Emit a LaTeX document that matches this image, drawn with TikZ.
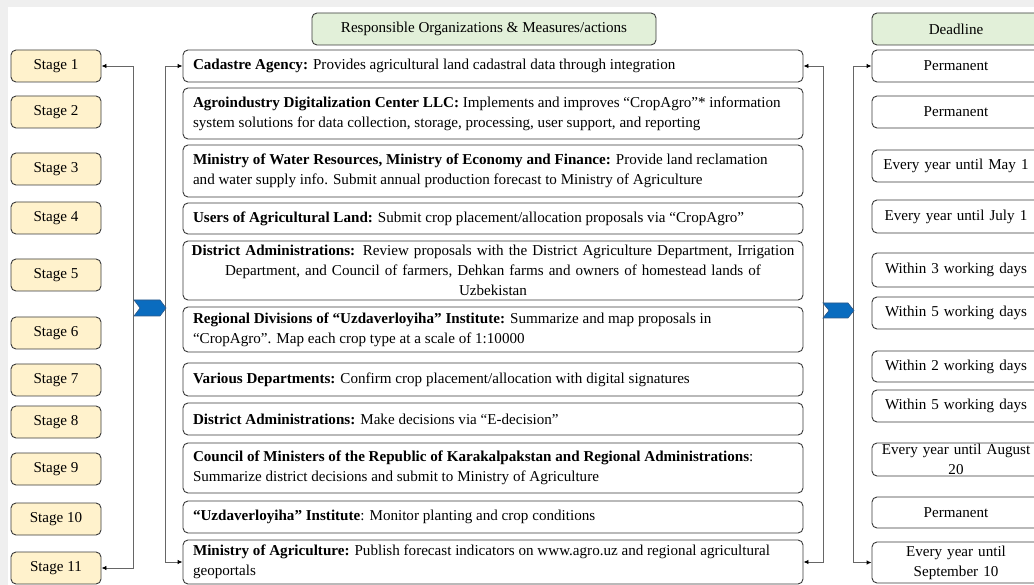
\documentclass[tikz,border=0pt]{standalone}
\usepackage{fontspec}
\setmainfont{Liberation Serif}
\usetikzlibrary{arrows.meta}
\definecolor{stagefill}{HTML}{FFF2CC}
\definecolor{headfill}{HTML}{E2F0D9}
\definecolor{boxline}{HTML}{3A3A3A}
\definecolor{connline}{HTML}{666666}
\definecolor{chevblue}{HTML}{0A6CBF}
\definecolor{chevedge}{HTML}{2F5A88}
\definecolor{marginbg}{HTML}{EFEFEF}

\tikzset{
  txt/.style={font=\fontsize{15.1}{20}\selectfont},
  base/.style={txt, draw=boxline, line width=0.9pt, rounded corners=5pt, inner sep=0pt},
  stagebox/.style={base, fill=stagefill, minimum width=90pt, minimum height=32pt},
  headbox/.style={base, fill=headfill, minimum height=32pt},
  actbox/.style={base, fill=white, minimum width=620pt, text width=600pt, align=flush left},
  actboxc/.style={actbox, text width=606pt, align=center},
  dlbox/.style={base, fill=white, minimum width=168pt, text width=162pt, align=center},
  conn/.style={draw=connline, line width=0.9pt,
    arrows={Latex[length=5pt,width=4.5pt,color=black]-Latex[length=5pt,width=4.5pt,color=black]}},
  chevron/.style={fill=chevblue, draw=chevedge, line width=0.6pt}
}

\begin{document}
\begin{tikzpicture}[x=1pt,y=-1pt]
\useasboundingbox (0,0) rectangle (1034,585);
\fill[marginbg] (0,0) rectangle (1034,585);
\fill[white] (8,7) rectangle (1034,585);

% column headers
\node[headbox, minimum width=344pt] (h1) at (484,29) {Responsible Organizations \& Measures/actions};
\node[headbox, minimum width=168pt] (h2) at (956,29) {Deadline};

% stages
\node[stagebox] (s1)  at (56,66)  {Stage 1};
\node[stagebox] (s2)  at (56,112) {Stage 2};
\node[stagebox] (s3)  at (56,169) {Stage 3};
\node[stagebox] (s4)  at (56,218) {Stage 4};
\node[stagebox] (s5)  at (56,275) {Stage 5};
\node[stagebox] (s6)  at (56,333) {Stage 6};
\node[stagebox] (s7)  at (56,380) {Stage 7};
\node[stagebox] (s8)  at (56,422) {Stage 8};
\node[stagebox] (s9)  at (56,469) {Stage 9};
\node[stagebox] (s10) at (56,519) {Stage 10};
\node[stagebox] (s11) at (56,568) {Stage 11};

% organizations and measures
\node[actbox, minimum height=32pt] (m1) at (493,66)
  {\textbf{Cadastre Agency:} Provides agricultural land cadastral data through integration};
\node[actbox, minimum height=51pt] (m2) at (493,113.5)
  {\textbf{Agroindustry Digitalization Center LLC:} Implements and improves “CropAgro”* information\\
   system solutions for data collection, storage, processing, user support, and reporting};
\node[actbox, minimum height=52pt] (m3) at (493,171)
  {\textbf{Ministry of Water Resources, Ministry of Economy and Finance:} Provide land reclamation\\
   and water supply info. Submit annual production forecast to Ministry of Agriculture};
\node[actbox, minimum height=31pt] (m4) at (493,218.5)
  {\textbf{Users of Agricultural Land:} Submit crop placement/allocation proposals via “CropAgro”};
\node[actboxc, minimum height=59pt] (m5) at (493,270.5)
  {\textbf{District Administrations:} Review proposals with the District Agriculture Department, Irrigation\\
   Department, and Council of farmers, Dehkan farms and owners of homestead lands of\\
   Uzbekistan};
\node[actbox, minimum height=45pt] (m6) at (493,329.5)
  {\textbf{Regional Divisions of “Uzdaverloyiha” Institute:} Summarize and map proposals in\\
   “CropAgro”. Map each crop type at a scale of 1:10000};
\node[actbox, minimum height=33pt] (m7) at (493,379.5)
  {\textbf{Various Departments:} Confirm crop placement/allocation with digital signatures};
\node[actbox, minimum height=32pt] (m8) at (493,419)
  {\textbf{District Administrations:} Make decisions via “E-decision”};
\node[actbox, minimum height=50pt] (m9) at (493,468)
  {\textbf{Council of Ministers of the Republic of Karakalpakstan and Regional Administrations}:\\
   Summarize district decisions and submit to Ministry of Agriculture};
\node[actbox, minimum height=32pt] (m10) at (493,517)
  {\textbf{“Uzdaverloyiha” Institute}: Monitor planting and crop conditions};
\node[actbox, minimum height=44pt] (m11) at (493,562)
  {\textbf{Ministry of Agriculture:} Publish forecast indicators on www.agro.uz and regional agricultural\\
   geoportals};

% deadlines
\node[dlbox, minimum height=32pt] (d1)  at (956,66)    {Permanent};
\node[dlbox, minimum height=32pt] (d2)  at (956,112)   {Permanent};
\node[dlbox, minimum height=32pt] (d3)  at (956,166)   {Every year until May 1};
\node[dlbox, minimum height=33pt] (d4)  at (956,216.5) {Every year until July 1};
\node[dlbox, minimum height=34pt] (d5)  at (956,270)   {Within 3 working days};
\node[dlbox, minimum height=32pt] (d6)  at (956,313)   {Within 5 working days};
\node[dlbox, minimum height=31pt] (d7)  at (956,366.5) {Within 2 working days};
\node[dlbox, minimum height=32pt] (d8)  at (956,406)   {Within 5 working days};
\node[dlbox, minimum height=33pt] (d9)  at (956,459.5) {Every year until August\\20};
\node[dlbox, minimum height=31pt] (d10) at (956,512.5) {Permanent};
\node[dlbox, minimum height=41pt] (d11) at (956,562.5) {Every year until\\September 10};

% bracket lines
\coordinate (xL) at (133,0);
\coordinate (xM) at (165,0);
\coordinate (xR) at (823,0);
\coordinate (xD) at (853,0);
\draw[conn] (s1.east) -- (s1.east -| xL) |- (s11.east);
\draw[conn] (m1.west) -- (m1.west -| xM) |- (m11.west);
\draw[conn] (m1.east) -- (m1.east -| xR) |- (m11.east);
\draw[conn] (d1.west) -- (d1.west -| xD) |- (d11.west);

% chevrons
\draw[chevron] (134,300) -- (160,300) -- (166,308) -- (160,316) -- (134,316) -- (140,308) -- cycle;
\draw[chevron] (823,303) -- (848,303) -- (854,310.5) -- (848,318) -- (823,318) -- (829,310.5) -- cycle;
\end{tikzpicture}
\end{document}
